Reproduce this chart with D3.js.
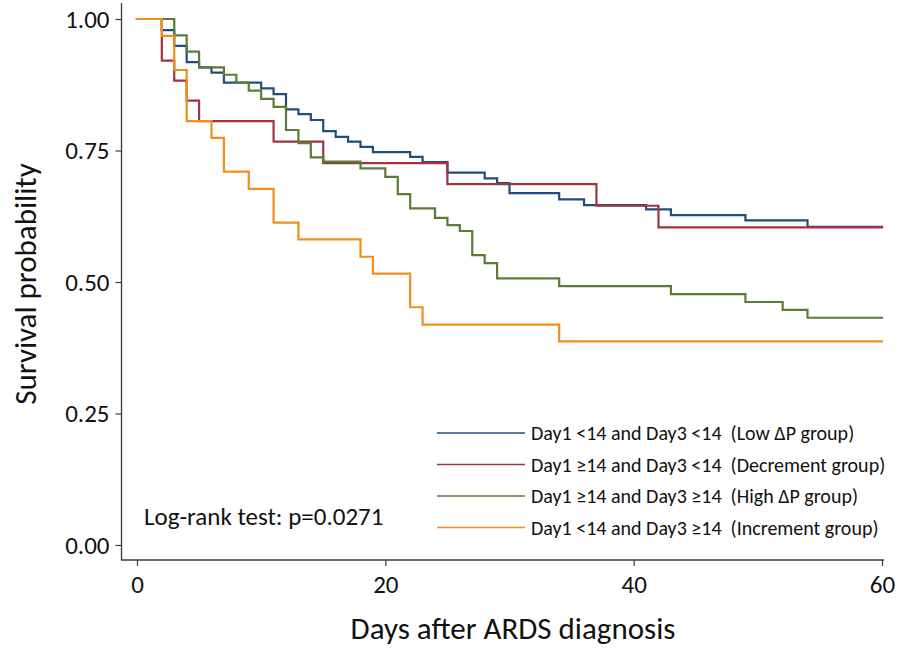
<!DOCTYPE html>
<html>
<head>
<meta charset="utf-8">
<script src="https://cdn.jsdelivr.net/npm/d3@7"></script>
<style>
  html, body { margin: 0; padding: 0; background: #fff; }
  svg { display: block; }
  text { font-family: Calibri, Carlito, Lato, sans-serif; fill: #111; white-space: pre; }
</style>
</head>
<body>
<svg id="chart" width="904" height="648"></svg>
<script>
// ---- Data ----
const lowTimes = [0,2,3,4,5,6,7,10,11,12,13,14,15,16,17,18,19,22,23,25,28,29,30,34,36,41,43,49,54,60];
const lowSurv  = [1,0.979,0.949,0.918,0.908,0.898,0.879,0.868,0.857,0.828,0.819,0.808,0.787,0.776,0.767,0.757,0.747,0.738,0.728,0.708,0.697,0.688,0.669,0.657,0.646,0.638,0.627,0.617,0.605,0.605];

const decTimes = [0,2,3,4,5,11,15,25,37,42,60];
const decSurv  = [1,0.921,0.883,0.845,0.806,0.767,0.726,0.686,0.645,0.604,0.604];

const highTimes = [0,3,4,5,7,8,9,10,11,12,13,14,15,18,20,21,22,24,25,26,27,28,29,34,43,49,52,54,60];
const highSurv  = [1,0.969,0.938,0.908,0.894,0.879,0.864,0.848,0.833,0.789,0.764,0.737,0.729,0.716,0.700,0.667,0.640,0.622,0.608,0.597,0.551,0.536,0.507,0.492,0.477,0.462,0.447,0.432,0.432];

const incTimes = [0,2,3,4,6,7,9,11,13,18,19,22,23,34,60];
const incSurv  = [1,0.968,0.903,0.806,0.774,0.710,0.677,0.613,0.581,0.548,0.516,0.452,0.419,0.387,0.387];

const seriesNames = [
  "Day1 <14 and Day3 <14  (Low \u0394P group)",
  "Day1 \u226514 and Day3 <14  (Decrement group)",
  "Day1 \u226514 and Day3 \u226514  (High \u0394P group)",
  "Day1 <14 and Day3 \u226514  (Increment group)"
];
const seriesColors = ["#1f4e7e", "#a1353f", "#5b7b37", "#f0901b"];

const xTicks = [0, 20, 40, 60];
const yTicks = [0, 0.25, 0.5, 0.75, 1];
const xTitle = "Days after ARDS diagnosis";
const yTitle = "Survival probability";
const noteText = "Log-rank test: p=0.0271";

// ---- Build ----
const series = [
  {name: seriesNames[0], color: seriesColors[0], t: lowTimes,  s: lowSurv},
  {name: seriesNames[1], color: seriesColors[1], t: decTimes,  s: decSurv},
  {name: seriesNames[2], color: seriesColors[2], t: highTimes, s: highSurv},
  {name: seriesNames[3], color: seriesColors[3], t: incTimes,  s: incSurv}
];

const svg = d3.select("#chart");
const x = d3.scaleLinear().domain([0, 60]).range([137, 882]);
const y = d3.scaleLinear().domain([0, 1]).range([545, 19]);

const axisColor = "#3a3a3a";
const fontStack = "Calibri, Carlito, Lato, sans-serif";

// Y axis
const yAxis = svg.append("g").attr("transform", "translate(121.5,0)")
  .call(d3.axisLeft(y).tickValues(yTicks).tickFormat(d3.format(".2f")).tickSize(6).tickPadding(6));
yAxis.select(".domain").remove();
yAxis.append("line").attr("x1", 0).attr("x2", 0).attr("y1", 3).attr("y2", 560)
  .attr("stroke", axisColor).attr("stroke-width", 1.3);
yAxis.selectAll(".tick line").attr("stroke", axisColor).attr("stroke-width", 1.2);
yAxis.selectAll(".tick text").attr("font-size", 25).attr("fill", "#111")
  .style("font-family", fontStack);

// X axis
const xAxis = svg.append("g").attr("transform", "translate(0,560)")
  .call(d3.axisBottom(x).tickValues(xTicks).tickFormat(d3.format("d")).tickSize(6).tickPadding(9));
xAxis.select(".domain").remove();
xAxis.append("line").attr("x1", 121).attr("x2", 884).attr("y1", 0).attr("y2", 0)
  .attr("stroke", axisColor).attr("stroke-width", 1.3);
xAxis.selectAll(".tick line").attr("stroke", axisColor).attr("stroke-width", 1.2);
xAxis.selectAll(".tick text").attr("font-size", 25).attr("fill", "#111")
  .style("font-family", fontStack);

// Titles
svg.append("text").attr("x", 513).attr("y", 639).attr("text-anchor", "middle")
  .attr("font-size", 31).text(xTitle);
svg.append("text").attr("transform", "translate(36,284) rotate(-90)").attr("text-anchor", "middle")
  .attr("font-size", 31).text(yTitle);

// Curves
const line = d3.line().x(d => x(d[0])).y(d => y(d[1])).curve(d3.curveStepAfter);
svg.append("g").selectAll("path").data(series).join("path")
  .attr("d", d => line(d.t.map((t, i) => [t, d.s[i]])))
  .attr("fill", "none").attr("stroke", d => d.color).attr("stroke-width", 2.2)
  .attr("stroke-linejoin", "miter").attr("stroke-linecap", "square");

// Legend
const legend = svg.append("g");
const rowY = [433, 464.5, 496, 527.5];
series.forEach((d, i) => {
  legend.append("line").attr("x1", 437).attr("x2", 525).attr("y1", rowY[i]).attr("y2", rowY[i])
    .attr("stroke", d.color).attr("stroke-width", 1.6);
  legend.append("text").attr("x", 531).attr("y", rowY[i]).attr("dy", "0.35em")
    .attr("font-size", 20).text(d.name);
});

// Note
svg.append("text").attr("x", 144).attr("y", 516).attr("dy", "0.35em")
  .attr("font-size", 25).text(noteText);
</script>
</body>
</html>
